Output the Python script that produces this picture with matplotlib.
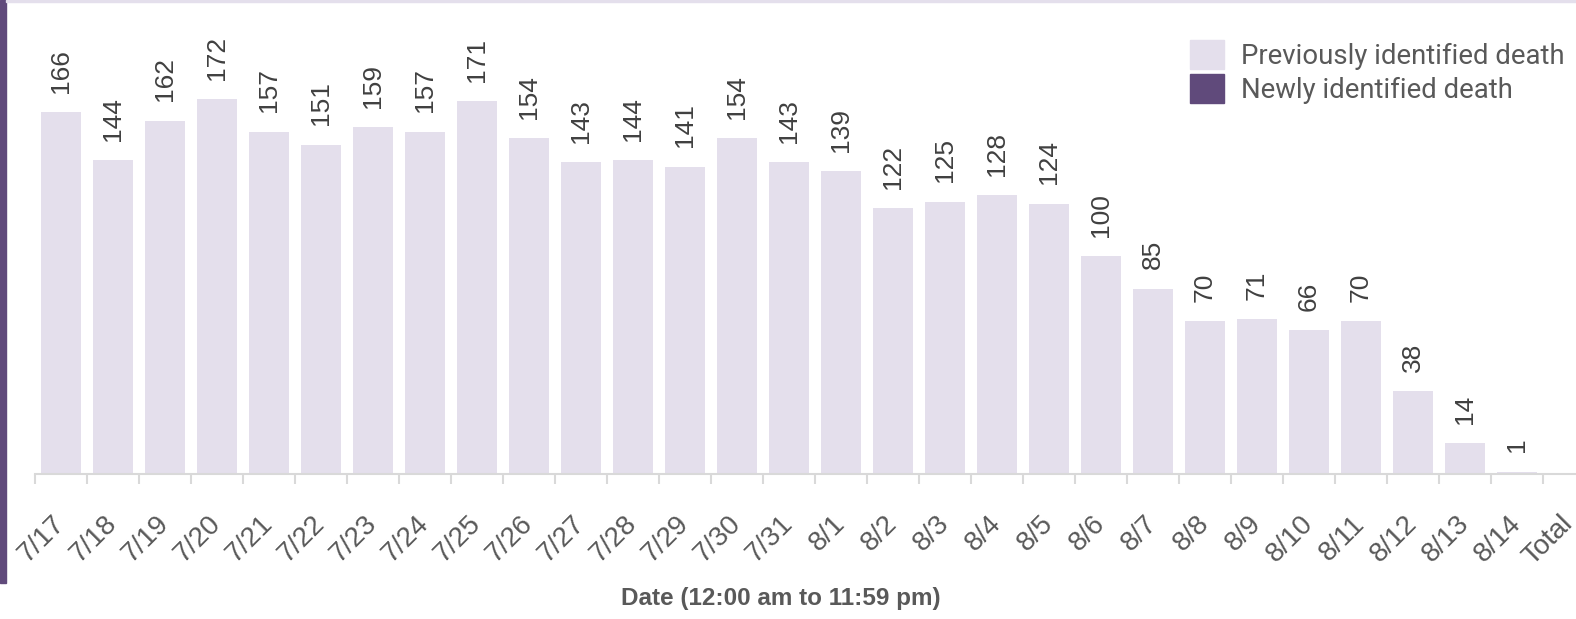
import matplotlib
matplotlib.use("Agg")
import matplotlib.pyplot as plt
import matplotlib.patches as mpatches
import numpy as np

# ── Data ─────────────────────────────────────────────────────────────────────
dates = ["7/17", "7/18", "7/19", "7/20", "7/21", "7/22", "7/23", "7/24", "7/25",
         "7/26", "7/27", "7/28", "7/29", "7/30", "7/31", "8/1", "8/2", "8/3",
         "8/4", "8/5", "8/6", "8/7", "8/8", "8/9", "8/10", "8/11", "8/12",
         "8/13", "8/14", "Total"]
previous = [166, 144, 162, 172, 157, 151, 159, 157, 171, 154, 143, 144, 141,
            154, 143, 139, 122, 125, 128, 124, 100, 85, 70, 71, 66, 70, 38,
            14, 1, 0]
newly = [0] * len(dates)

# ── Palette ──────────────────────────────────────────────────────────────────
PREV_COLOR = "#E4DFEC"
NEW_COLOR = "#604A7B"
TEXT_DARK = "#404040"
TEXT_GREY = "#595959"
AXIS_COLOR = "#D9D9D9"
SANS = ["Liberation Sans", "DejaVu Sans"]

W, H = 1576, 619
fig = plt.figure(figsize=(W / 100, H / 100), dpi=100)
fig.patch.set_facecolor("white")

# frame bits: purple bar on the left, thin lavender line on top
fig.patches.append(mpatches.Rectangle((0, 1 - 583 / H), 6 / W, 583 / H,
                                      transform=fig.transFigure, color=NEW_COLOR))
fig.patches.append(mpatches.Rectangle((6 / W, 1 - 2 / H), 1, 2 / H,
                                      transform=fig.transFigure, color=PREV_COLOR))

ax = fig.add_axes([35 / W, 1 - 474 / H, 1560 / W, 436 / H])
x = np.arange(len(dates))
ax.bar(x, previous, width=0.77, color=PREV_COLOR, zorder=2)
ax.bar(x, newly, width=0.77, bottom=previous, color=NEW_COLOR, zorder=2)

for xi, v, lab in zip(x, previous, dates):
    if lab == "Total":
        continue
    ax.annotate(str(v), (xi, v), xytext=(0, 14), textcoords="offset points",
                rotation=90, ha="center", va="bottom", fontsize=19,
                color=TEXT_DARK, family=SANS)

ax.set_xlim(-0.5, len(dates) - 0.5)
ax.set_ylim(0, 200)
for s in ["top", "right", "left"]:
    ax.spines[s].set_visible(False)
ax.spines["bottom"].set_color(AXIS_COLOR)
ax.spines["bottom"].set_linewidth(1.5)
ax.set_yticks([])

ax.set_xticks(x)
ax.set_xticklabels(dates, rotation=45, ha="right", va="center",
                   rotation_mode="anchor", fontsize=20, color=TEXT_GREY,
                   family=SANS)
ax.tick_params(axis="x", which="major", length=0, pad=33)
ax.set_xticks(np.arange(len(dates) + 1) - 0.5, minor=True)
ax.tick_params(axis="x", which="minor", length=7, width=1.5, color=AXIS_COLOR)

fig.text(781 / W, 1 - 598 / H, "Date (12:00 am to 11:59 pm)", ha="center",
         va="center", fontsize=17.5, fontweight="bold", color=TEXT_GREY,
         family=SANS)

handles = [mpatches.Patch(color=PREV_COLOR, label="Previously identified death"),
           mpatches.Patch(color=NEW_COLOR, label="Newly identified death")]
fig.legend(handles=handles, loc="upper left", bbox_to_anchor=(1190 / W, 1 - 40 / H),
           frameon=False, labelcolor=TEXT_GREY, borderpad=0,
           borderaxespad=0, handlelength=1.22, handleheight=1.22,
           labelspacing=0.18, handletextpad=0.62,
           prop={"family": ["Roboto", "DejaVu Sans"], "size": 19.8})

fig.savefig("out.png", dpi=100, facecolor="white")
